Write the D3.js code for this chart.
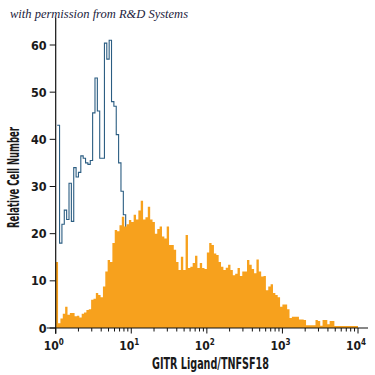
<!DOCTYPE html>
<html>
<head>
<meta charset="utf-8">
<script src="https://cdn.jsdelivr.net/npm/d3@7"></script>
<style>
  body { margin: 0; background: #fff; }
  svg { display: block; }
  .lbl { font-family: "DejaVu Sans", sans-serif; font-stretch: condensed; font-weight: bold; fill: #1a1a1a; }
</style>
</head>
<body>
<svg id="chart" width="375" height="375"></svg>
<script>
// 32 channels per decade, from 10^0 to 10^4
const binsPerDecade = 32;
const orangeCounts = [
  14, 1, 2, 3, 4.5, 2.8, 3.2, 3.2, 2.5, 2.6, 2.2, 3, 3.3, 3.8, 4, 6,
  6.2, 7.4, 7, 6.5, 8.8, 12, 14.4, 14, 18, 20.8, 20.5, 21.8, 23.6, 21.5, 22, 22.9,
  22.5, 24, 23, 24.9, 27, 23, 23.5, 25.7, 23, 22.5, 20, 21, 21.5, 19.4, 19, 21.5,
  17.6, 17.6, 16.6, 14, 12.3, 15.1, 12.3, 19.7, 12.7, 13, 13.8, 15.3, 12.7, 13.8, 12.7, 12.5,
  16, 18, 17.6, 15.8, 15.5, 14, 13, 12.3, 12.8, 13.4, 12.3, 11.2, 11.5, 12.7, 11, 12,
  12, 14.4, 13.4, 12.5, 11.6, 14.5, 12, 10.9, 11, 8, 8.8, 9.3, 7.4, 7, 6.5, 4.5,
  5, 5, 4, 2.1, 2.4, 2.4, 2.4, 1.8, 1.8, 1.7, 0.6, 0.6, 0.6, 0.6, 1.7, 1.5,
  0.5, 1.7, 1.7, 0.8, 1.5, 1.5, 0.4, 0.4, 0.4, 0.4, 0.4, 0.4, 0.4, 0.4, 0.4, 0.4
];
const blueCounts = [
  43, 18, 22, 25, 23, 30.7, 22.6, 34, 32, 33, 36.5, 36, 35, 34.7, 35.5, 45.6,
  53, 46, 36, 36, 60.4, 57, 61, 48, 47, 41, 35, 29, 24, 18, 12, 7,
  3, 1
];
const yTicks = [0, 10, 20, 30, 40, 50, 60];
const xTicks = [1, 10, 100, 1000, 10000];
const xTitle = "GITR Ligand/TNFSF18";
const yTitle = "Relative Cell Number";
const credit = "with permission from R&D Systems";

const svg = d3.select('#chart');

const x = d3.scaleLog().domain([1, 1e4]).range([55.7, 358]);
const y = d3.scaleLinear().domain([0, 60]).range([328, 45]);

const toSteps = (counts) => {
  let pts = counts.map((v, i) => ({e: Math.pow(10, i / binsPerDecade), v: v}));
  pts.push({e: Math.pow(10, counts.length / binsPerDecade), v: counts[counts.length - 1]});
  return pts;
};

// blue (control) outline, drawn under the orange fill
const blueLine = d3.line()
  .x(d => x(d.e) + 1.5)
  .y(d => y(d.v))
  .curve(d3.curveStepAfter);

svg.append('path')
  .datum(toSteps(blueCounts))
  .attr('d', blueLine)
  .attr('fill', 'none')
  .attr('stroke', '#2b5d82')
  .attr('stroke-width', 1.1);

const orangeArea = d3.area()
  .x(d => x(d.e))
  .y0(y(0))
  .y1(d => y(d.v))
  .curve(d3.curveStepAfter);

svg.append('path')
  .datum(toSteps(orangeCounts))
  .attr('d', orangeArea)
  .attr('fill', '#f7a11d');

// axes
svg.append('line')
  .attr('x1', x(1)).attr('x2', x(1))
  .attr('y1', y(65.8)).attr('y2', y(-1.2))
  .attr('stroke', '#111').attr('stroke-width', 1.2);
svg.append('line')
  .attr('x1', x(1) - 9).attr('x2', x(1e4) + 10)
  .attr('y1', y(0)).attr('y2', y(0))
  .attr('stroke', '#111').attr('stroke-width', 1.2);

let yAxis = svg.append('g');
yAxis.selectAll('line').data(yTicks).enter().append('line')
  .attr('x1', x(1) - 6).attr('x2', x(1))
  .attr('y1', d => y(d)).attr('y2', d => y(d))
  .attr('stroke', '#111');
yAxis.selectAll('text').data(yTicks).enter().append('text')
  .attr('class', 'lbl')
  .attr('x', x(1) - 9).attr('y', d => y(d) + 4.5)
  .attr('text-anchor', 'end')
  .attr('font-size', 12.5)
  .text(d => d);

let minor = [];
for (let p = 0; p < 4; p++) {
  for (let k = 2; k < 10; k++) minor.push(k * Math.pow(10, p));
}
let xAxis = svg.append('g');
xAxis.selectAll('line.minor').data(minor).enter().append('line')
  .attr('class', 'minor')
  .attr('x1', d => x(d)).attr('x2', d => x(d))
  .attr('y1', y(0)).attr('y2', y(0) + 3.5)
  .attr('stroke', '#111');
xAxis.selectAll('line.major').data(xTicks).enter().append('line')
  .attr('class', 'major')
  .attr('x1', d => x(d)).attr('x2', d => x(d))
  .attr('y1', y(0)).attr('y2', y(0) + 5.5)
  .attr('stroke', '#111');
let xl = xAxis.selectAll('text').data(xTicks).enter().append('text')
  .attr('class', 'lbl')
  .attr('x', d => x(d) - 2).attr('y', 350)
  .attr('text-anchor', 'middle')
  .attr('font-size', 12);
xl.append('tspan').text('10');
xl.append('tspan').attr('dy', -5).attr('font-size', 8).text(d => Math.round(Math.log10(d)));

svg.append('text')
  .attr('class', 'lbl')
  .attr('x', 152).attr('y', 369)
  .attr('font-size', 16)
  .attr('textLength', 117)
  .attr('lengthAdjust', 'spacingAndGlyphs')
  .text(xTitle);

svg.append('text')
  .attr('class', 'lbl')
  .attr('transform', 'translate(19,228) rotate(-90)')
  .attr('font-size', 15)
  .attr('textLength', 101)
  .attr('lengthAdjust', 'spacingAndGlyphs')
  .text(yTitle);

svg.append('text')
  .attr('x', 10).attr('y', 18)
  .attr('font-family', '"Liberation Serif", serif')
  .attr('font-style', 'italic')
  .attr('font-size', 12.5)
  .attr('fill', '#1c1c3c')
  .text(credit);
</script>
</body>
</html>
